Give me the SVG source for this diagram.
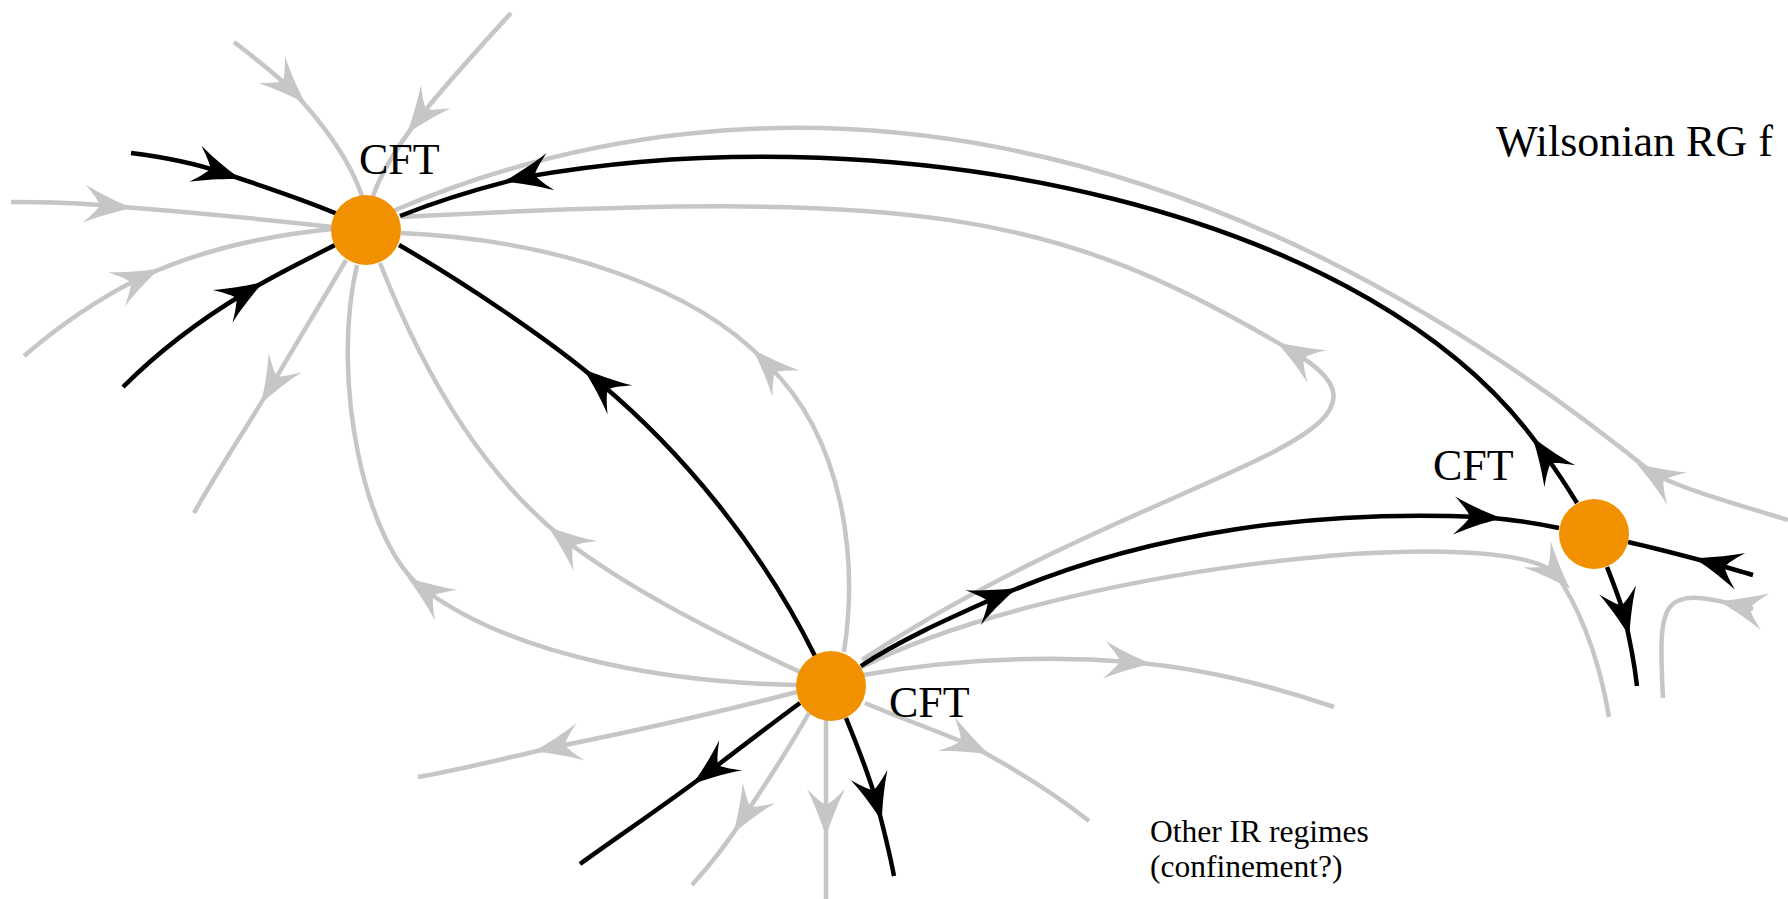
<svg xmlns="http://www.w3.org/2000/svg" width="1788" height="899" viewBox="0 0 1788 899">
<style>
.g{fill:none;stroke:#c6c6c6;stroke-width:4.5;marker-mid:url(#ag)}
.k{fill:none;stroke:#000;stroke-width:4.5;marker-mid:url(#ak)}
.fp{fill:#f29100}
.lbl{font-family:"Liberation Serif","DejaVu Serif",serif;font-size:44px;fill:#000}
.sm{font-family:"Liberation Serif","DejaVu Serif",serif;font-size:31.5px;fill:#000}
</style>
<defs>
<path id="ah" d="M0,0 C-10,-3 -30,-10 -48,-19 C-38,-9 -34,-4 -32,0 C-34,4 -38,9 -48,19 C-30,10 -10,3 0,0 Z"/>
<marker id="ag" viewBox="-50 -21 52 42" markerWidth="52" markerHeight="42" refX="-22" refY="0" orient="auto" markerUnits="userSpaceOnUse">
<use href="#ah" fill="#c6c6c6"/>
</marker>
<marker id="ak" viewBox="-50 -21 52 42" markerWidth="52" markerHeight="42" refX="-22" refY="0" orient="auto" markerUnits="userSpaceOnUse">
<use href="#ah" fill="#000"/>
</marker>
</defs>
<rect width="1788" height="899" fill="#fff"/>
<g id="connectors">
<g id="gray-flows">
<path class="g" d="M234,42 C255,58 275,74 290,88 C320,120 350,160 362,196"/>
<path class="g" d="M511,13 C480,47 445,85 420,117 C400,143 382,170 373,196"/>
<path class="g" d="M11,202 C50,202 80,203 110,206 C190,212 270,220 333,227"/>
<path class="g" d="M24,356 C60,325 100,298 140,278 C200,250 270,235 333,229"/>
<path class="g" d="M346,260 C320,305 295,345 272,385 C245,430 215,475 194,513"/>
<path class="g" d="M797,685 C680,683 520,660 425,590 C365,548 330,380 357,265"/>
<path class="g" d="M800,672 C720,635 630,590 565,540 C490,480 430,390 380,263"/>
<path class="g" d="M862,660 C1150,470 1440,440 1295,353 C1052,207 916,190 401,217"/>
<path class="g" d="M844,652 C858,560 845,440 768,365 C700,290 560,240 401,233"/>
<path class="g" d="M1788,520 C1740,505 1700,495 1655,475 C1214,115 770,50 393,211"/>
<path class="g" d="M860,668 C1050,570 1490,520 1555,573 C1575,600 1598,650 1609,717"/>
<path class="g" d="M1753,609 C1748,608 1745,607 1740,606 C1660,585 1658,600 1663,698"/>
<path class="g" d="M863,675 C950,660 1040,655 1130,662 C1200,668 1270,685 1334,707"/>
<path class="g" d="M865,703 C900,718 935,730 970,745 C1010,766 1050,790 1089,821"/>
<path class="g" d="M797,692 C720,712 640,730 555,747 C510,757 460,770 418,777"/>
<path class="g" d="M809,713 C788,750 765,785 745,815 C727,845 710,865 692,885"/>
<path class="g" d="M826,720 L826,815 L826,899"/>
</g>
<g id="black-flows">
<path class="k" d="M131,153 C170,158 200,165 220,172 C260,185 300,198 340,215"/>
<path class="k" d="M123,387 C160,350 200,320 245,293 C280,272 310,258 335,245"/>
<path class="k" d="M815,656 C760,545 680,450 600,383 C550,340 460,280 399,245"/>
<path class="k" d="M1577,503 C1566,485 1556,470 1545,455 C1380,210 900,110 525,177 C480,188 440,200 400,216"/>
<path class="k" d="M861,666 C900,640 950,618 997,597 C1150,530 1320,510 1480,517 C1510,519 1535,523 1559,528"/>
<path class="k" d="M1753,575 C1740,571 1728,568 1715,564 C1685,556 1655,548 1628,542"/>
<path class="k" d="M1607,567 C1614,585 1620,600 1624,615 C1630,640 1634,660 1637,686"/>
<path class="k" d="M800,703 C770,725 740,748 710,771 C665,805 620,835 580,864"/>
<path class="k" d="M846,718 C857,745 868,772 876,800 C884,830 890,855 894,876"/>
</g>
</g>
<g id="node-A">
<circle class="fp" cx="366" cy="230" r="35"/>
<text class="lbl" x="359" y="174">CFT</text>
</g>
<g id="node-B">
<circle class="fp" cx="831" cy="686" r="35"/>
<text class="lbl" x="889" y="717">CFT</text>
</g>
<g id="node-C">
<circle class="fp" cx="1594" cy="534" r="35"/>
<text class="lbl" x="1433" y="480">CFT</text>
</g>
<g id="title">
<text class="lbl" x="1496" y="156">Wilsonian RG f</text>
</g>
<g id="note">
<text class="sm" x="1150" y="842">Other IR regimes</text>
<text class="sm" x="1150" y="877">(confinement?)</text>
</g>
</svg>
